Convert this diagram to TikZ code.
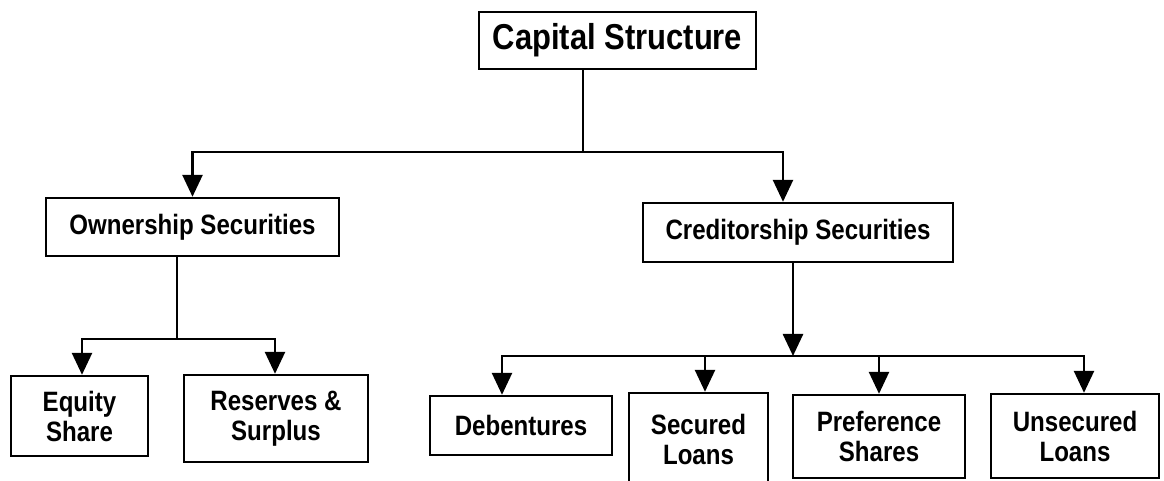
\documentclass[tikz,border=0pt]{standalone}
\usepackage{fontspec}
\usepackage{tikz}
\usetikzlibrary{arrows.meta}
\newfontfamily\boxfont{Liberation Sans}[FakeStretch=0.86]

\begin{document}
\begin{tikzpicture}[x=0.5pt, y=-0.5pt, >={Triangle[width=10pt, length=11pt]},
            box/.style={draw, line width=1.2pt, align=center, inner sep=0pt,
                font=\boxfont\bfseries\fontsize{14}{15}\selectfont},
            link/.style={line width=1.3pt}]
            \useasboundingbox (0, 0) rectangle (1164, 481);
            % top
            \node[box, minimum width=138.5pt, minimum height=28.5pt,
                font=\boxfont\bfseries\fontsize{18}{20}\selectfont] (cap) at (617.5, 40.5) {Capital Structure};
            % second level
            \node[box, minimum width=146.5pt, minimum height=29pt] (own) at (192.5, 227) {Ownership Securities};
            \node[box, minimum width=155pt, minimum height=29.5pt] (cred) at (798, 232.5) {Creditorship Securities};
            % ownership side
            \node[box, minimum width=68.5pt, minimum height=40pt] (eq) at (79.5, 416) {Equity\\Share};
            \node[box, minimum width=92pt, minimum height=43.5pt] (res) at (276, 418.5) {Reserves \&\\Surplus};
            % creditorship side
            \node[box, minimum width=91pt, minimum height=29.5pt] (deb) at (521, 425.5) {Debentures};
            \node[box, minimum width=69.5pt, minimum height=46pt] (sec) at (698.5, 439) {Secured\\Loans};
            \node[box, minimum width=86pt, minimum height=41.5pt] (pref) at (879, 436.5) {Preference\\Shares};
            \node[box, minimum width=84pt, minimum height=42pt] (uns) at (1075, 436) {Unsecured\\Loans};

            \coordinate (j1) at (583, 152);
            \coordinate (j2) at (177, 339);
            \coordinate (j3) at (793, 356);

            \draw[link] (cap.south -| j1) -- (j1);
            \draw[link, ->] (j1) -| (own.north);
            \draw[link, ->] (j1) -| ([xshift=-7.5pt]cred.north);

            \draw[link] (own.south -| j2) -- (j2);
            \draw[link, ->] (j2) -| ([xshift=1.25pt]eq.north);
            \draw[link, ->] (j2) -| ([xshift=-0.5pt]res.north);

            \draw[link, ->] (cred.south -| j3) -- (j3);
            \draw[link, ->] (j3) -| ([xshift=-9.5pt]deb.north);
            \draw[link, ->] (j3) -| ([xshift=3.25pt]sec.north);
            \draw[link, ->] (j3) -| (pref.north);
            \draw[link, ->] (j3) -| ([xshift=4.5pt]uns.north);
\end{tikzpicture}
\end{document}
